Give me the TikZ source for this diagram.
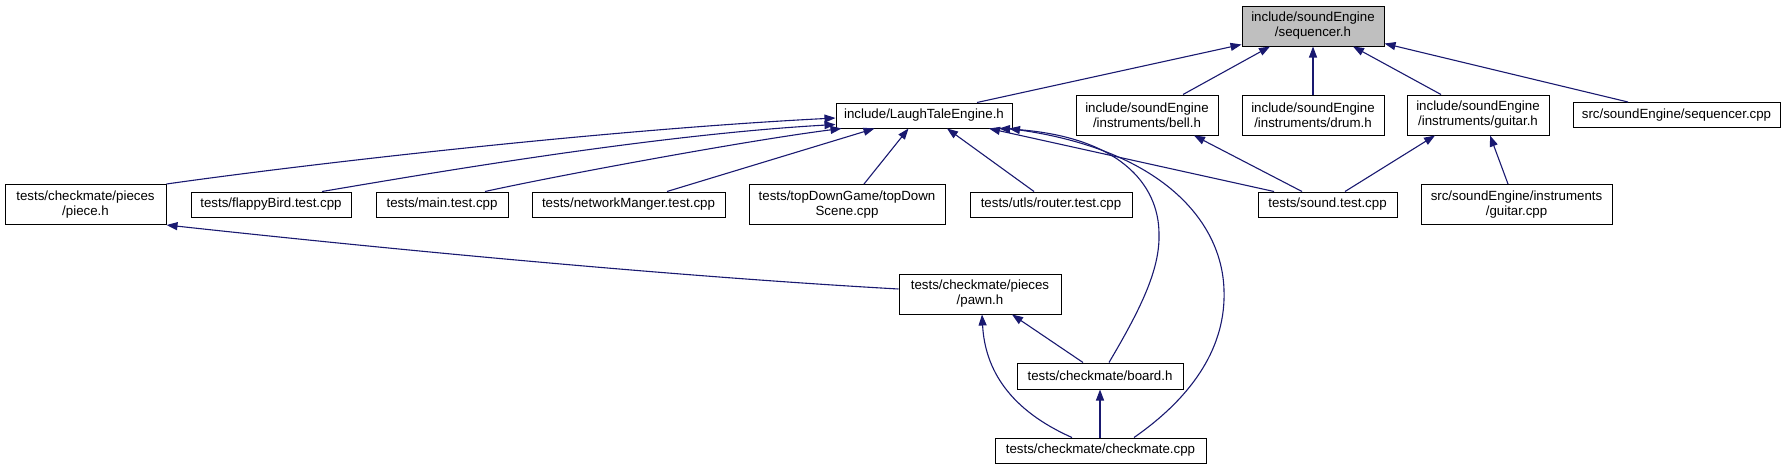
\documentclass[tikz,border=0pt]{standalone}
\usepackage{fontspec}
\setmainfont{Liberation Sans}
\usetikzlibrary{arrows.meta}
\definecolor{edgeblue}{RGB}{25,25,112}
\definecolor{rootgray}{RGB}{191,191,191}
\begin{document}
\begin{tikzpicture}[x=1pt,y=-1pt,
  box/.style={draw=black, line width=1pt, fill=white, inner sep=0pt, align=center, font=\fontsize{13.3}{15}\selectfont},
  dep/.style={draw=edgeblue, line width=1.1pt, -{Triangle[length=11pt,width=8pt]}}]
\useasboundingbox (0,0) rectangle (1785,469);
% nodes
\node[box, fill=rootgray, minimum width=142pt, minimum height=40pt] (seq) at (1313,26) {include/soundEngine\\/sequencer.h};
\node[box, minimum width=176pt, minimum height=25pt] (lte) at (924,115.5) {include/LaughTaleEngine.h};
\node[box, minimum width=142pt, minimum height=40pt] (bell) at (1147,115) {include/soundEngine\\/instruments/bell.h};
\node[box, minimum width=142pt, minimum height=40pt] (drum) at (1313,115) {include/soundEngine\\/instruments/drum.h};
\node[box, minimum width=142pt, minimum height=40pt] (guitarh) at (1478,115) {include/soundEngine\\/instruments/guitar.h};
\node[box, minimum width=207pt, minimum height=25pt] (seqcpp) at (1676.5,115) {src/soundEngine/sequencer.cpp};
\node[box, minimum width=161pt, minimum height=40pt] (piece) at (85.5,204.5) {tests/checkmate/pieces\\/piece.h};
\node[box, minimum width=160pt, minimum height=25pt] (flappy) at (271,204.5) {tests/flappyBird.test.cpp};
\node[box, minimum width=132pt, minimum height=25pt] (mainT) at (442,204.5) {tests/main.test.cpp};
\node[box, minimum width=193pt, minimum height=25pt] (network) at (628.5,204.5) {tests/networkManger.test.cpp};
\node[box, minimum width=196pt, minimum height=40pt] (topdown) at (847,204.5) {tests/topDownGame/topDown\\Scene.cpp};
\node[box, minimum width=162pt, minimum height=25pt] (router) at (1051,204.5) {tests/utls/router.test.cpp};
\node[box, minimum width=139pt, minimum height=25pt] (sound) at (1327.5,204.5) {tests/sound.test.cpp};
\node[box, minimum width=191pt, minimum height=40pt] (guitarcpp) at (1516.5,204.5) {src/soundEngine/instruments\\/guitar.cpp};
\node[box, minimum width=162pt, minimum height=40pt] (pawn) at (980,294) {tests/checkmate/pieces\\/pawn.h};
\node[box, minimum width=166pt, minimum height=26pt] (board) at (1100,376) {tests/checkmate/board.h};
\node[box, minimum width=211pt, minimum height=25pt] (checkmate) at (1100.5,450.5) {tests/checkmate/checkmate.cpp};
% edges to sequencer.h
\draw[dep] ([xshift=53pt]lte.north) -- ([yshift=2pt]seq.south west);
\draw[dep] ([xshift=36pt]bell.north) -- ([xshift=-43pt]seq.south);
\draw[dep] (drum.north) -- (seq.south);
\draw[dep] ([xshift=-37pt]guitarh.north) -- ([xshift=40pt]seq.south);
\draw[dep] ([xshift=-48.5pt]seqcpp.north) -- ([yshift=3pt]seq.south east);
% edges to LaughTaleEngine.h
\draw[dep] (piece.north east) .. controls (300,165) and (600,130) .. ([yshift=-2.5pt]lte.west);
\draw[dep] ([xshift=51pt]flappy.north) .. controls (420,175) and (650,135) .. ([yshift=-9pt]lte.west);
\draw[dep] ([xshift=43pt]mainT.north) .. controls (560,175) and (750,140) .. ([xshift=6pt]lte.south west);
\draw[dep] ([xshift=38.5pt]network.north) -- ([xshift=39pt]lte.south west);
\draw[dep] ([xshift=17pt]topdown.north) -- ([xshift=73pt]lte.south west);
\draw[dep] ([xshift=-17pt]router.north) -- ([xshift=23pt]lte.south);
\draw[dep] ([xshift=-53.5pt]sound.north) -- ([xshift=65pt]lte.south);
\draw[dep] ([xshift=9pt]board.north) .. controls (1140,310) and (1160,270) .. (1159,234)
  .. controls (1159,185) and (1120,135) .. ([xshift=75pt]lte.south);
\draw[dep] ([xshift=33.5pt]checkmate.north) .. controls (1195,395) and (1226,345) .. (1224,290)
  .. controls (1222,220) and (1160,150) .. ([xshift=85pt]lte.south);
% other edges
\draw[dep] ([xshift=-25.5pt]sound.north) -- ([xshift=47pt]bell.south);
\draw[dep] ([xshift=17.5pt]sound.north) -- ([xshift=-43pt]guitarh.south);
\draw[dep] ([xshift=-8.5pt]guitarcpp.north) -- ([xshift=12pt]guitarh.south);
\draw[dep] ([yshift=5pt]pawn.west) .. controls (650,275) and (350,245) .. (piece.south east);
\draw[dep] ([xshift=-17pt]board.north) -- ([xshift=32pt]pawn.south);
\draw[dep] ([xshift=-28.5pt]checkmate.north) .. controls (1010,410) and (985,370) .. ([xshift=2pt]pawn.south);
\draw[dep] (board.south |- checkmate.north) -- (board.south);
\end{tikzpicture}
\end{document}
